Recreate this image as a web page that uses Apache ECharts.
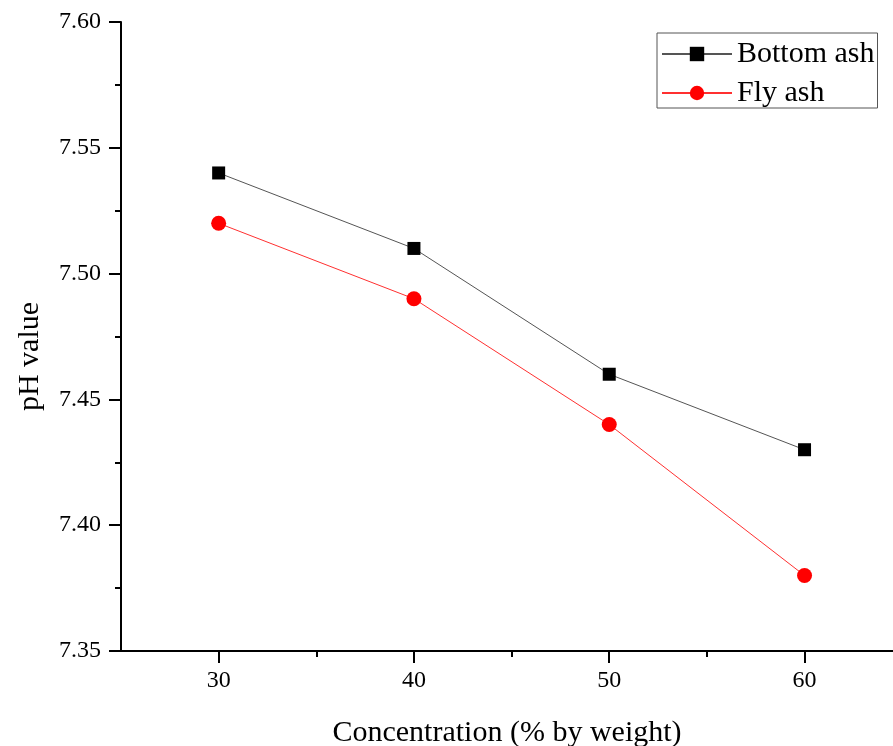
<!DOCTYPE html>
<html>
<head>
<meta charset="utf-8">
<script src="https://cdn.jsdelivr.net/npm/echarts@6/dist/echarts.min.js"></script>
<style>
html,body{margin:0;padding:0;background:#fff;}
#chart{width:893px;height:746px;}
</style>
</head>
<body>
<div id="chart"></div>
<script>
const concentration = [30, 40, 50, 60];
const bottomAsh = [7.54, 7.51, 7.46, 7.43];
const flyAsh = [7.52, 7.49, 7.44, 7.38];
const xMajorTicks = [30, 40, 50, 60];
const xMinorTicks = [35, 45, 55];

const FONT = "'Liberation Serif', 'Times New Roman', serif";
const chart = echarts.init(document.getElementById('chart'), null, {renderer: 'canvas'});

const option = {
  backgroundColor: '#ffffff',
  animation: false,
  grid: {left: 121, right: 0, top: 22, bottom: 95, containLabel: false, outerBoundsMode: 'none'},
  legend: {
    show: true,
    left: 657, top: 33,
    orient: 'vertical',
    padding: [6, 3, 0, 4],
    itemGap: 9,
    itemWidth: 70,
    itemHeight: 18,
    borderColor: '#555',
    borderWidth: 1,
    backgroundColor: '#fff',
    textStyle: {fontFamily: FONT, fontSize: 30, color: '#000'},
    data: ['Bottom ash', 'Fly ash']
  },
  xAxis: [{
    type: 'value',
    min: 25, max: 64.53,
    position: 'bottom',
    name: 'Concentration (% by weight)',
    nameLocation: 'middle',
    nameGap: 67,
    nameTextStyle: {fontFamily: FONT, fontSize: 30, color: '#000'},
    axisLine: {show: true, onZero: false, lineStyle: {color: '#000', width: 2}},
    axisTick: {show: true, customValues: xMajorTicks, length: 12, inside: false, lineStyle: {color: '#000', width: 2}},
    axisLabel: {customValues: xMajorTicks, margin: 18, fontFamily: FONT, fontSize: 24, color: '#000'},
    splitLine: {show: false}
  }, {
    type: 'value',
    min: 25, max: 64.53,
    position: 'bottom',
    axisLine: {show: false, onZero: false},
    axisTick: {show: true, customValues: xMinorTicks, length: 6, inside: false, lineStyle: {color: '#000', width: 2}},
    axisLabel: {show: false},
    splitLine: {show: false}
  }],
  yAxis: {
    type: 'value',
    min: 7.35, max: 7.60,
    interval: 0.05,
    name: 'pH value',
    nameLocation: 'middle',
    nameGap: 76,
    nameTextStyle: {fontFamily: FONT, fontSize: 30, color: '#000', padding: [0, 40, 0, 0]},
    axisLine: {show: true, onZero: false, lineStyle: {color: '#000', width: 2}},
    axisTick: {show: true, length: 12, inside: false, lineStyle: {color: '#000', width: 2}},
    minorTick: {show: true, splitNumber: 2, length: 6, lineStyle: {color: '#000', width: 2}},
    axisLabel: {margin: 20, fontFamily: FONT, fontSize: 24, color: '#000', formatter: v => v.toFixed(2)},
    splitLine: {show: false},
    minorSplitLine: {show: false}
  },
  series: [{
    name: 'Bottom ash',
    type: 'line',
    data: concentration.map((c, i) => [c, bottomAsh[i]]),
    symbol: 'rect',
    symbolSize: 13,
    itemStyle: {color: '#000'},
    lineStyle: {color: '#555', width: 1}
  }, {
    name: 'Fly ash',
    type: 'line',
    data: concentration.map((c, i) => [c, flyAsh[i]]),
    symbol: 'circle',
    symbolSize: 15,
    itemStyle: {color: '#ff0000'},
    lineStyle: {color: '#ff3030', width: 1}
  }]
};
chart.setOption(option);
</script>
</body>
</html>
